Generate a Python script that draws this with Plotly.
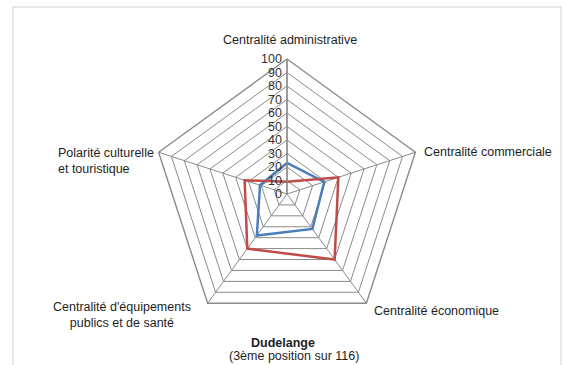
import plotly.graph_objects as go

categories = ["Centralité administrative", "Centralité commerciale", "Centralité économique",
              "Centralité d'équipements publics et de santé", "Polarité culturelle et touristique"]
label_text = ["Centralité administrative", "Centralité commerciale", "Centralité économique",
              "Centralité d'équipements<br>publics et de santé", "Polarité culturelle<br>et touristique"]
series_blue = [23, 29, 32, 38, 21]
series_red = [9, 40, 60, 50, 33]
radial_ticks = list(range(0, 101, 10))

W, H = 563, 365
cx, cy, R = 287, 194, 135
FONT = "Liberation Sans"
GRID = "#8a8a8a"
TXT = "#1e1e1e"

fig = go.Figure()
for vals, col, name in [(series_blue, "#4a7ebb", "Série 1"), (series_red, "#be4b48", "Série 2")]:
    fig.add_trace(go.Scatterpolar(
        r=vals + vals[:1], theta=categories + categories[:1], mode="lines",
        line=dict(color=col, width=2.5), name=name, showlegend=False))

fig.update_layout(
    width=W, height=H, margin=dict(l=0, r=0, t=0, b=0),
    paper_bgcolor="white", plot_bgcolor="white",
    font=dict(family=FONT, size=12, color=TXT),
    polar=dict(
        domain=dict(x=[(cx - R) / W, (cx + R) / W], y=[(H - cy - R) / H, (H - cy + R) / H]),
        gridshape="linear", bgcolor="white",
        radialaxis=dict(range=[0, 100], tickvals=radial_ticks, angle=90, tickangle=90,
                        showline=True, linecolor=GRID, linewidth=1.4, gridcolor=GRID, gridwidth=1.4,
                        ticks="", tickfont=dict(size=12.5, color="#333333"), side="counterclockwise"),
        angularaxis=dict(rotation=90, direction="clockwise", showticklabels=False, ticks="",
                         showline=True, linecolor=GRID, linewidth=1.4, gridcolor=GRID, gridwidth=1.4),
    ),
)

def px(x, y):
    return x / W, 1 - y / H

ann = [
    (label_text[0], 290, 40, "center"),
    (label_text[1], 422, 152, "left"),
    (label_text[2], 372, 311, "left"),
    (label_text[3], 122, 315, "center"),
    (label_text[4], 56, 161, "left"),
]
for t, x, y, al in ann:
    ax, ay = px(x, y)
    fig.add_annotation(text=t, x=ax, y=ay, xref="paper", yref="paper", showarrow=False,
                       xanchor=al, yanchor="middle", align=al,
                       font=dict(family=FONT, size=12.5, color=TXT))

tx, ty = px(283, 343)
fig.add_annotation(text="<b>Dudelange</b>", x=tx, y=ty, xref="paper", yref="paper", showarrow=False,
                   xanchor="center", yanchor="middle", font=dict(family=FONT, size=12.5, color=TXT))
tx, ty = px(294, 356)
fig.add_annotation(text="(3ème position sur 116)", x=tx, y=ty, xref="paper", yref="paper", showarrow=False,
                   xanchor="center", yanchor="middle", font=dict(family=FONT, size=12.5, color=TXT))

fig.add_shape(type="rect", xref="paper", yref="paper", x0=13 / W, x1=561 / W, y0=-0.05, y1=1 - 7 / H,
              line=dict(color="#d0d0d0", width=1), fillcolor="rgba(0,0,0,0)", layer="below")

fig.write_html("out.html", config={"displayModeBar": False},
               post_script="document.body.style.margin='0';document.body.style.overflow='hidden';")
